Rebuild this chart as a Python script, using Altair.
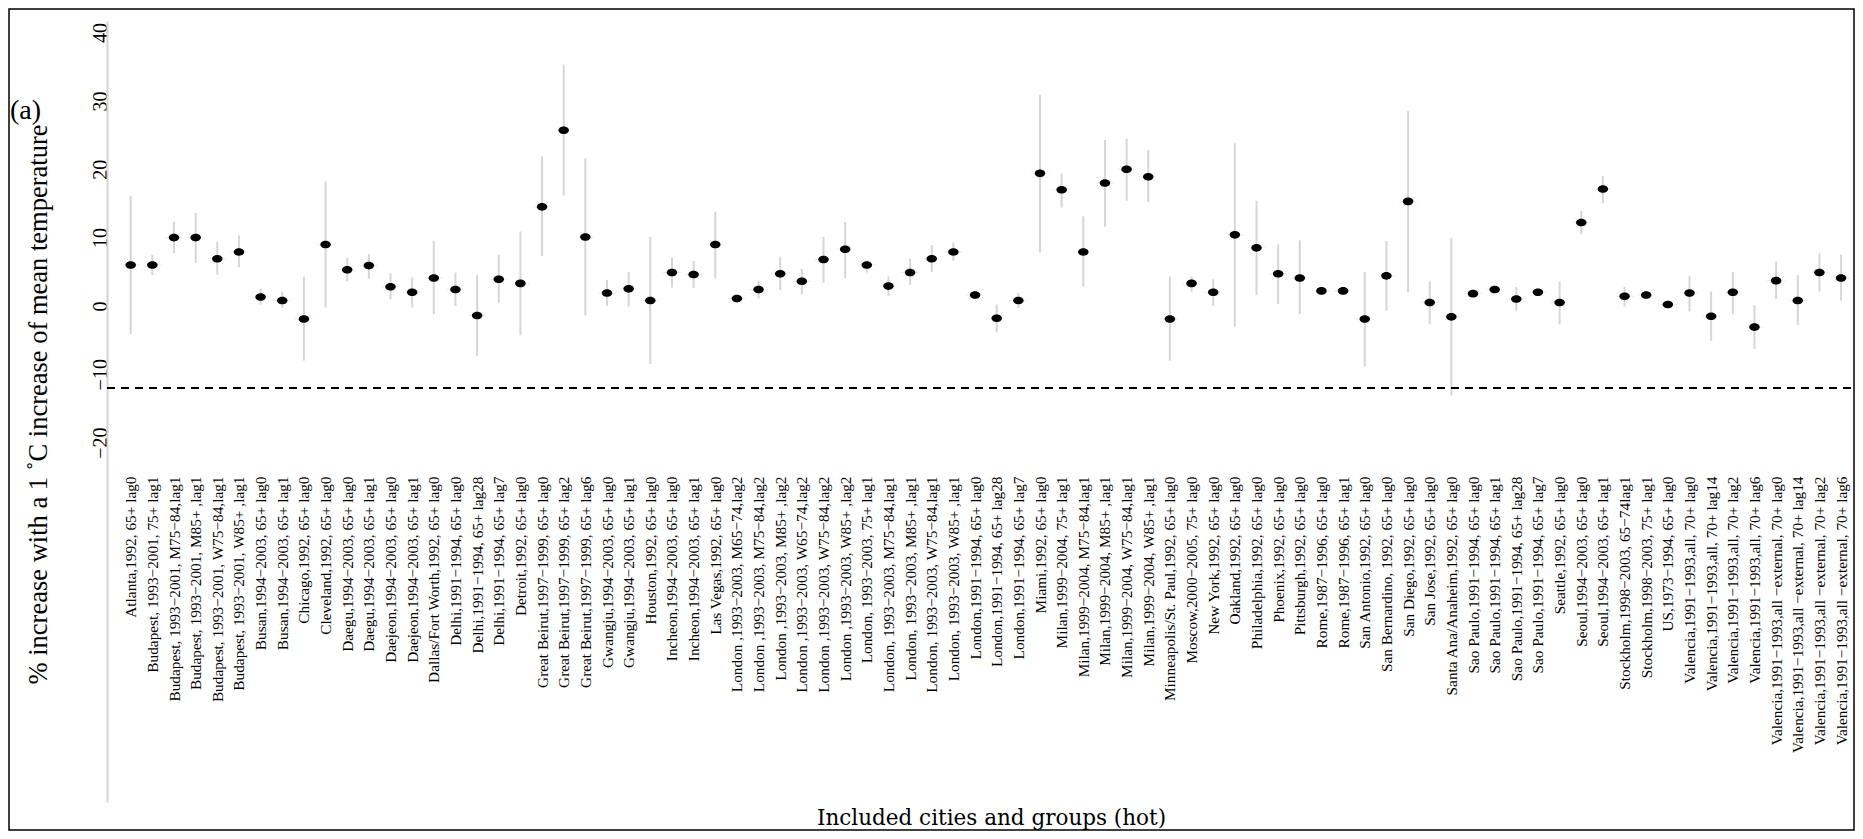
import altair as alt
import pandas as pd

M = "\u2212"
cities = [
    "Atlanta,1992, 65+ lag0",
    f"Budapest, 1993{M}2001, 75+ lag1",
    f"Budapest, 1993{M}2001, M75{M}84,lag1",
    f"Budapest, 1993{M}2001, M85+ ,lag1",
    f"Budapest, 1993{M}2001, W75{M}84,lag1",
    f"Budapest, 1993{M}2001, W85+ ,lag1",
    f"Busan,1994{M}2003, 65+ lag0",
    f"Busan,1994{M}2003, 65+ lag1",
    "Chicago,1992, 65+ lag0",
    "Cleveland,1992, 65+ lag0",
    f"Daegu,1994{M}2003, 65+ lag0",
    f"Daegu,1994{M}2003, 65+ lag1",
    f"Daejeon,1994{M}2003, 65+ lag0",
    f"Daejeon,1994{M}2003, 65+ lag1",
    "Dallas/Fort Worth,1992, 65+ lag0",
    f"Delhi,1991{M}1994, 65+ lag0",
    f"Delhi,1991{M}1994, 65+ lag28",
    f"Delhi,1991{M}1994, 65+ lag7",
    "Detroit,1992, 65+ lag0",
    f"Great Beirut,1997{M}1999, 65+ lag0",
    f"Great Beirut,1997{M}1999, 65+ lag2",
    f"Great Beirut,1997{M}1999, 65+ lag6",
    f"Gwangju,1994{M}2003, 65+ lag0",
    f"Gwangju,1994{M}2003, 65+ lag1",
    "Houston,1992, 65+ lag0",
    f"Incheon,1994{M}2003, 65+ lag0",
    f"Incheon,1994{M}2003, 65+ lag1",
    "Las Vegas,1992, 65+ lag0",
    f"London ,1993{M}2003, M65{M}74,lag2",
    f"London ,1993{M}2003, M75{M}84,lag2",
    f"London ,1993{M}2003, M85+ ,lag2",
    f"London ,1993{M}2003, W65{M}74,lag2",
    f"London ,1993{M}2003, W75{M}84,lag2",
    f"London ,1993{M}2003, W85+ ,lag2",
    f"London, 1993{M}2003, 75+ lag1",
    f"London, 1993{M}2003, M75{M}84,lag1",
    f"London, 1993{M}2003, M85+ ,lag1",
    f"London, 1993{M}2003, W75{M}84,lag1",
    f"London, 1993{M}2003, W85+ ,lag1",
    f"London,1991{M}1994, 65+ lag0",
    f"London,1991{M}1994, 65+ lag28",
    f"London,1991{M}1994, 65+ lag7",
    "Miami,1992, 65+ lag0",
    f"Milan,1999{M}2004, 75+ lag1",
    f"Milan,1999{M}2004, M75{M}84,lag1",
    f"Milan,1999{M}2004, M85+ ,lag1",
    f"Milan,1999{M}2004, W75{M}84,lag1",
    f"Milan,1999{M}2004, W85+ ,lag1",
    "Minneapolis/St. Paul,1992, 65+ lag0",
    f"Moscow,2000{M}2005, 75+ lag0",
    "New York,1992, 65+ lag0",
    "Oakland,1992, 65+ lag0",
    "Philadelphia,1992, 65+ lag0",
    "Phoenix,1992, 65+ lag0",
    "Pittsburgh,1992, 65+ lag0",
    f"Rome,1987{M}1996, 65+ lag0",
    f"Rome,1987{M}1996, 65+ lag1",
    "San Antonio,1992, 65+ lag0",
    "San Bernardino, 1992, 65+ lag0",
    "San Diego,1992, 65+ lag0",
    "San Jose,1992, 65+ lag0",
    "Santa Ana/Anaheim,1992, 65+ lag0",
    f"Sao Paulo,1991{M}1994, 65+ lag0",
    f"Sao Paulo,1991{M}1994, 65+ lag1",
    f"Sao Paulo,1991{M}1994, 65+ lag28",
    f"Sao Paulo,1991{M}1994, 65+ lag7",
    "Seattle,1992, 65+ lag0",
    f"Seoul,1994{M}2003, 65+ lag0",
    f"Seoul,1994{M}2003, 65+ lag1",
    f"Stockholm,1998{M}2003, 65{M}74lag1",
    f"Stockholm,1998{M}2003, 75+ lag1",
    f"US,1973{M}1994, 65+ lag0",
    f"Valencia,1991{M}1993,all, 70+ lag0",
    f"Valencia,1991{M}1993,all, 70+ lag14",
    f"Valencia,1991{M}1993,all, 70+ lag2",
    f"Valencia,1991{M}1993,all, 70+ lag6",
    f"Valencia,1991{M}1993,all {M}external, 70+ lag0",
    f"Valencia,1991{M}1993,all {M}external, 70+ lag14",
    f"Valencia,1991{M}1993,all {M}external, 70+ lag2",
    f"Valencia,1991{M}1993,all {M}external, 70+ lag6",
]

estimate = [6.0, 6.0, 10.0, 10.0, 6.9, 7.9, 1.3, 0.8, -1.9, 9.0,
            5.3, 5.9, 2.8, 2.0, 4.1, 2.4, -1.4, 3.9, 3.3, 14.5,
            25.7, 10.1, 1.9, 2.5, 0.8, 4.9, 4.6, 9.0, 1.1, 2.4,
            4.7, 3.6, 6.8, 8.3, 6.0, 2.9, 4.9, 6.9, 7.9, 1.6,
            -1.8, 0.8, 19.4, 17.0, 7.9, 18.0, 20.0, 18.9, -1.9, 3.3,
            2.0, 10.4, 8.5, 4.7, 4.1, 2.2, 2.2, -1.9, 4.4, 15.3,
            0.5, -1.6, 1.8, 2.4, 1.0, 2.0, 0.5, 12.2, 17.1, 1.4,
            1.6, 0.2, 1.9, -1.5, 2.0, -3.1, 3.7, 0.8, 4.9, 4.1]

lower = [-4.1, 4.5, 7.7, 6.3, 4.6, 5.7, 0.2, -0.3, -8.0, -0.2,
         3.6, 4.0, 1.0, -0.2, -1.2, 0.0, -7.3, 0.4, -4.3, 7.3,
         16.2, -1.4, 0.0, -0.1, -8.5, 2.7, 2.6, 4.1, 0.5, 1.1,
         2.3, 1.7, 3.4, 4.1, 4.9, 1.5, 3.1, 5.0, 6.6, 1.1,
         -3.9, -0.3, 7.8, 14.4, 2.8, 11.6, 15.4, 15.2, -8.0, 2.1,
         0.0, -3.0, 1.6, 0.3, -1.2, 1.8, 1.8, -8.9, -0.7, 2.0,
         -2.7, -13.1, 1.4, 2.0, -0.7, 1.5, -2.7, 10.5, 15.0, -0.1,
         1.0, -0.2, -0.8, -5.1, -1.2, -6.3, 1.0, -2.8, 2.1, 0.8]

upper = [16.1, 7.5, 12.3, 13.6, 9.4, 10.3, 2.5, 2.1, 4.3, 18.2,
         7.0, 7.6, 4.8, 4.2, 9.5, 4.9, 4.5, 7.5, 10.9, 21.9,
         35.3, 21.6, 3.8, 5.0, 10.1, 7.1, 6.6, 13.8, 1.6, 3.7,
         7.2, 5.4, 10.1, 12.3, 6.7, 4.3, 6.9, 8.9, 9.3, 2.1,
         0.2, 1.9, 30.9, 19.4, 13.1, 24.3, 24.5, 22.8, 4.3, 4.3,
         3.9, 23.8, 15.4, 9.0, 9.6, 2.7, 2.7, 5.0, 9.5, 28.5,
         3.6, 9.9, 2.2, 2.8, 2.8, 2.3, 3.6, 13.9, 19.0, 2.8,
         2.1, 0.6, 4.4, 2.1, 5.0, 0.1, 6.5, 4.5, 7.7, 7.5]

y_ticks = [-20, -10, 0, 10, 20, 30, 40]
ref_value = [-12]

df = pd.DataFrame({"city": cities, "est": estimate, "lo": lower, "hi": upper})

W, H = 1743, 781
SERIF = "Liberation Serif"

x_axis = alt.Axis(
    title="Included cities and groups (hot)",
    titleX=884, titleY=344, titleBaseline="middle", titleAlign="center",
    labelAngle=270, labelAlign="right", labelBaseline="middle",
    labelFontSize=15.3,
    labelLimit=0, labelOverlap=False, labelPadding=2,
    ticks=False, domain=False, grid=False, offset=-328,
)
y_axis = alt.Axis(
    values=y_ticks, format="d",
    title="% increase with a 1 \u02daC increase of mean temperature",
    titleAngle=270, titleX=-69, titleY=383, titleAlign="center", titleBaseline="middle",
    labelAngle=270, labelAlign="center", labelBaseline="alphabetic",
    labelFontSize=20, labelPadding=1,
    ticks=False, grid=False, domainColor="#d4d4d4", domainWidth=2,
)
x_scale = alt.Scale(type="point", padding=0.754, align=0.726)
y_scale = alt.Scale(domain=[-72.6, 41.7], nice=False, zero=False)

def xenc():
    return alt.X("city:N", sort=cities, scale=x_scale, axis=x_axis)

base = alt.Chart(df)

bars = base.mark_rule(color="#d6d6d6", strokeWidth=2).encode(
    x=xenc(), y=alt.Y("lo:Q", scale=y_scale, axis=y_axis), y2="hi:Q"
)
whisk = base.mark_tick(color="#e4e4e4", thickness=1, size=18).encode(
    x=xenc(), y=alt.Y("est:Q", scale=y_scale, axis=y_axis)
)
ellipse = "M -1 0 A 1 0.72 0 1 0 1 0 A 1 0.72 0 1 0 -1 0 Z"
dots = base.mark_point(shape=ellipse, filled=True, color="black", size=110, opacity=1).encode(
    x=xenc(), y=alt.Y("est:Q", scale=y_scale, axis=y_axis)
)

ref = alt.Chart(pd.DataFrame({"v": ref_value})).mark_rule(
    color="black", strokeWidth=2, strokeDash=[8, 6]
).encode(y=alt.Y("v:Q", scale=y_scale, axis=y_axis), x=alt.value(0), x2=alt.value(W + 4))

label_a = alt.Chart(pd.DataFrame({"t": ["(a)"]})).mark_text(
    font=SERIF, fontSize=28, align="left", baseline="middle", color="black"
).encode(text="t:N", x=alt.value(-97), y=alt.value(90))

frame = alt.Chart(pd.DataFrame({"f": [0]})).mark_rect(
    fillOpacity=0, stroke="black", strokeWidth=1.5
).encode(x=alt.value(-98), x2=alt.value(W + 4), y=alt.value(-12), y2=alt.value(H + 28))

chart = alt.layer(bars, whisk, ref, dots, label_a, frame).properties(
    width=W, height=H,
    autosize=alt.AutoSizeParams(type="none"),
    padding={"left": 99, "top": 13, "right": 5, "bottom": 29},
    background="white",
).configure_view(
    stroke=None
).configure_axis(
    labelFont=SERIF, titleFont=SERIF, labelColor="black", titleColor="black",
    titleFontWeight="normal",
).configure_axisX(
    titleFont="DejaVu Serif", titleFontSize=21.5, labelFont=SERIF,
).configure_axisY(
    titleFont=SERIF, titleFontSize=26.5, labelFont=SERIF,
)

chart.save("out.html", embed_options={"renderer": "svg", "actions": False})
